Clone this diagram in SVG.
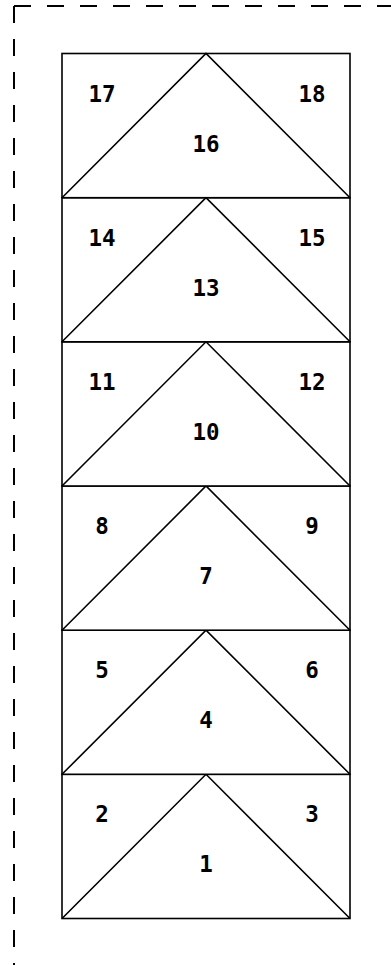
<svg xmlns="http://www.w3.org/2000/svg" width="391" height="965" viewBox="0 0 391 965">
<style>
.frame{fill:none;stroke:#000;stroke-width:2;stroke-dasharray:17,16}
.box{fill:#fff;stroke:#000;stroke-width:1.6}
.tri{fill:none;stroke:#000;stroke-width:1.6}
.lbl{font-family:"DejaVu Sans Mono","Liberation Mono",monospace;font-weight:bold;font-size:22.5px;text-anchor:middle;fill:#000}
</style>
<rect width="391" height="965" fill="#fff"/>
<g id="frame">
<path class="frame" d="M14,6 H391"/>
<path class="frame" d="M14,6 V965"/>
</g>
<g id="row1" transform="translate(0,774.3)">
<rect class="box" x="62" y="0" width="288" height="144.2"/>
<path class="tri" d="M62,144.2 L206,0 L350,144.2"/>
<text class="lbl" x="102" y="48">2</text><text class="lbl" x="312" y="48">3</text><text class="lbl" x="206" y="98">1</text>
</g>
<g id="row4" transform="translate(0,630.2)">
<rect class="box" x="62" y="0" width="288" height="144.1"/>
<path class="tri" d="M62,144.1 L206,0 L350,144.1"/>
<text class="lbl" x="102" y="48">5</text><text class="lbl" x="312" y="48">6</text><text class="lbl" x="206" y="98">4</text>
</g>
<g id="row7" transform="translate(0,486)">
<rect class="box" x="62" y="0" width="288" height="144.2"/>
<path class="tri" d="M62,144.2 L206,0 L350,144.2"/>
<text class="lbl" x="102" y="48">8</text><text class="lbl" x="312" y="48">9</text><text class="lbl" x="206" y="98">7</text>
</g>
<g id="row10" transform="translate(0,341.8)">
<rect class="box" x="62" y="0" width="288" height="144.2"/>
<path class="tri" d="M62,144.2 L206,0 L350,144.2"/>
<text class="lbl" x="102" y="48">11</text><text class="lbl" x="312" y="48">12</text><text class="lbl" x="206" y="98">10</text>
</g>
<g id="row13" transform="translate(0,197.7)">
<rect class="box" x="62" y="0" width="288" height="144.1"/>
<path class="tri" d="M62,144.1 L206,0 L350,144.1"/>
<text class="lbl" x="102" y="48">14</text><text class="lbl" x="312" y="48">15</text><text class="lbl" x="206" y="98">13</text>
</g>
<g id="row16" transform="translate(0,53.5)">
<rect class="box" x="62" y="0" width="288" height="144.2"/>
<path class="tri" d="M62,144.2 L206,0 L350,144.2"/>
<text class="lbl" x="102" y="48">17</text><text class="lbl" x="312" y="48">18</text><text class="lbl" x="206" y="98">16</text>
</g>
</svg>
